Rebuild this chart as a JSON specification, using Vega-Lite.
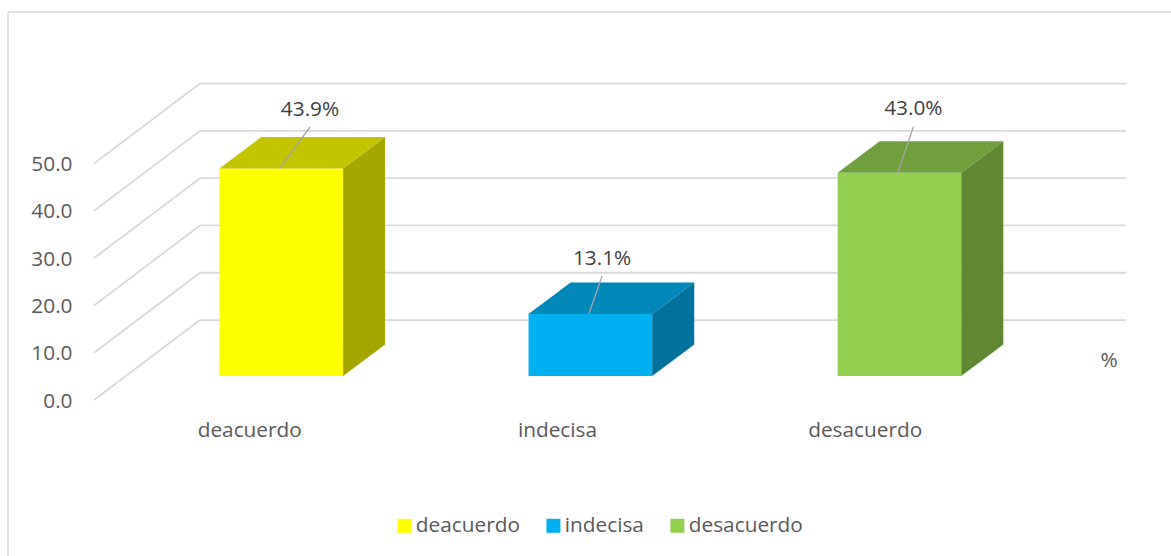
{
"$schema":"https://vega.github.io/schema/vega-lite/v6.json",
"width":1171,"height":556,"padding":0,"autosize":"none","background":"white",
"config":{"view":{"stroke":null},"font":"Open Sans"},
"datasets":{
 "bars":[{"category":"deacuerdo","value":43.9},{"category":"indecisa","value":13.1},{"category":"desacuerdo","value":43.0}],
 "ticks":[{"tick":0},{"tick":10},{"tick":20},{"tick":30},{"tick":40},{"tick":50}],
 "unit":[{"label":"%"}],
 "frame":[{"edge":"border"}]
},
"layer":[
 {"data":{"name":"frame"},"transform":[
   {"calculate":"-0.884","as":"fl"},{"calculate":"2.8785","as":"fr"},{"calculate":"82.03","as":"ft"},{"calculate":"-32.98","as":"fb"}],
  "layer":[
  {"mark":{"type":"rule","color":"#D9D9D9","strokeWidth":1.5},"encoding":{
    "x":{"field":"fl","type":"quantitative","scale":{"domain":[-0.91,2.8785],"nice":false,"zero":false},"axis":null},
    "x2":{"field":"fr"},
    "y":{"field":"ft","type":"quantitative","scale":{"domain":[-32.98,84.57],"nice":false,"zero":false},"axis":{"values":[0,10,20,30,40,50],"format":".1f","title":null,"domain":false,"ticks":false,"grid":false,"labelPadding":0,"offset":-72,"labelOffset":1,"labelFontSize":20.8,"labelColor":"#595959"}}}},
  {"mark":{"type":"rule","color":"#D9D9D9","strokeWidth":1.5},"encoding":{
    "x":{"field":"fl","type":"quantitative","axis":null},
    "y":{"field":"ft","type":"quantitative"},
    "y2":{"field":"fb"}}}
 ]},
 {"data":{"name":"ticks"},"transform":[
   {"calculate":"datum.tick+16.9","as":"back"},
   {"calculate":"-0.6058","as":"gx0"},{"calculate":"-0.2629","as":"gx1"},{"calculate":"2.7329","as":"gx2"}],
  "layer":[
  {"mark":{"type":"rule","color":"#DADADA","strokeWidth":1.8},"encoding":{
    "x":{"field":"gx1","type":"quantitative","axis":null},
    "x2":{"field":"gx2"},
    "y":{"field":"back","type":"quantitative"}}},
  {"mark":{"type":"rule","color":"#DADADA","strokeWidth":1.8},"encoding":{
    "x":{"field":"gx0","type":"quantitative","axis":null},
    "x2":{"field":"gx1"},
    "y":{"field":"tick","type":"quantitative"},
    "y2":{"field":"back"}}}
 ]},
 {"data":{"name":"bars"},"transform":[
   {"calculate":"indexof(['deacuerdo','indecisa','desacuerdo'],datum.category)","as":"u"},
   {"calculate":"datum.value+5.07","as":"top"},
   {"calculate":"5.07","as":"base"},
   {"calculate":"datum.u-0.2","as":"left"},
   {"calculate":"datum.u+0.2","as":"right"}
 ],"layer":[
  {"mark":{"type":"rect"},"encoding":{
    "x":{"field":"left","type":"quantitative","axis":null},
    "x2":{"field":"right"},
    "y":{"field":"base","type":"quantitative"},
    "y2":{"field":"top"},
    "fill":{"field":"category","type":"nominal",
      "scale":{"domain":["deacuerdo","indecisa","desacuerdo","deacuerdo side","indecisa side","desacuerdo side","deacuerdo top","indecisa top","desacuerdo top"],"range":["#FFFF00","#00B0F0","#92D050","#A6A600","#00729C","#5F8734","#C4C400","#0088B9","#70A03E"]},
      "legend":{"values":["deacuerdo","indecisa","desacuerdo"],"title":null,"orient":"none","direction":"horizontal","columns":3,"legendX":394,"legendY":515,"symbolType":"square","symbolSize":196,"symbolStrokeWidth":0,"labelFontSize":20.8,"labelColor":"#595959","labelOffset":1,"columnPadding":23}}}},
  {"transform":[
     {"calculate":"[0,0.136]","as":"dx"},{"calculate":"[0,6.66]","as":"dy"},
     {"flatten":["dx","dy"]},
     {"calculate":"datum.right+datum.dx","as":"sx"},
     {"calculate":"5.07+datum.dy","as":"lo"},
     {"calculate":"datum.top+datum.dy","as":"hi"},
     {"calculate":"datum.category+' side'","as":"shade"}],
   "mark":{"type":"area","orient":"vertical"},"encoding":{
    "x":{"field":"sx","type":"quantitative","axis":null},
    "y":{"field":"lo","type":"quantitative"},
    "y2":{"field":"hi"},
    "fill":{"field":"shade","type":"nominal","legend":null,
      "scale":{"domain":["deacuerdo","indecisa","desacuerdo","deacuerdo side","indecisa side","desacuerdo side","deacuerdo top","indecisa top","desacuerdo top"],"range":["#FFFF00","#00B0F0","#92D050","#A6A600","#00729C","#5F8734","#C4C400","#0088B9","#70A03E"]}}}},
  {"transform":[
     {"calculate":"[0,0.136,0.4,0.536]","as":"dx"},{"calculate":"[0,0,0,6.66]","as":"dl"},{"calculate":"[0,6.66,6.66,6.66]","as":"dh"},
     {"flatten":["dx","dl","dh"]},
     {"calculate":"datum.left+datum.dx","as":"tx"},
     {"calculate":"datum.top+datum.dl","as":"lo"},
     {"calculate":"datum.top+datum.dh","as":"hi"},
     {"calculate":"datum.category+' top'","as":"shade"}],
   "mark":{"type":"area","orient":"vertical"},"encoding":{
    "x":{"field":"tx","type":"quantitative","axis":null},
    "y":{"field":"lo","type":"quantitative"},
    "y2":{"field":"hi"},
    "fill":{"field":"shade","type":"nominal","legend":null,
      "scale":{"domain":["deacuerdo","indecisa","desacuerdo","deacuerdo side","indecisa side","desacuerdo side","deacuerdo top","indecisa top","desacuerdo top"],"range":["#FFFF00","#00B0F0","#92D050","#A6A600","#00729C","#5F8734","#C4C400","#0088B9","#70A03E"]}}}},
  {"transform":[
     {"calculate":"datum.u-0.005","as":"l0"},
     {"calculate":"datum.u+{'deacuerdo':0.093,'indecisa':0.038,'desacuerdo':0.045}[datum.category]","as":"l1"},
     {"calculate":"datum.top+{'deacuerdo':8.75,'indecisa':8.05,'desacuerdo':9.7}[datum.category]","as":"ly"},
     {"calculate":"format(datum.value,'.1f')+'%'","as":"lab"},
     {"calculate":"datum.ly+3.65","as":"ty"}],
   "layer":[
    {"mark":{"type":"rule","color":"#A6A6A6","strokeWidth":1.3},"encoding":{
      "x":{"field":"l0","type":"quantitative","axis":null},
      "x2":{"field":"l1"},
      "y":{"field":"top","type":"quantitative"},
      "y2":{"field":"ly"}}},
    {"mark":{"type":"text","fontSize":20.8,"color":"#404040","align":"center","baseline":"middle"},"encoding":{
      "x":{"field":"l1","type":"quantitative","axis":null},
      "y":{"field":"ty","type":"quantitative"},
      "text":{"field":"lab","type":"nominal"}}}
   ]},
  {"transform":[{"calculate":"datum.u*0.9955-0.102","as":"cx"},{"calculate":"-6.5","as":"cy"}],
   "mark":{"type":"text","fontSize":20.8,"color":"#595959","align":"center","baseline":"middle"},"encoding":{
    "x":{"field":"cx","type":"quantitative","axis":null},
    "y":{"field":"cy","type":"quantitative"},
    "text":{"field":"category","type":"nominal"}}}
 ]},
 {"data":{"name":"unit"},"transform":[{"calculate":"2.678","as":"px"},{"calculate":"8.25","as":"py"}],
  "mark":{"type":"text","fontSize":20.8,"color":"#595959","align":"center","baseline":"middle"},"encoding":{
   "x":{"field":"px","type":"quantitative","axis":null},
   "y":{"field":"py","type":"quantitative"},
   "text":{"field":"label","type":"nominal"}}}
]
}
